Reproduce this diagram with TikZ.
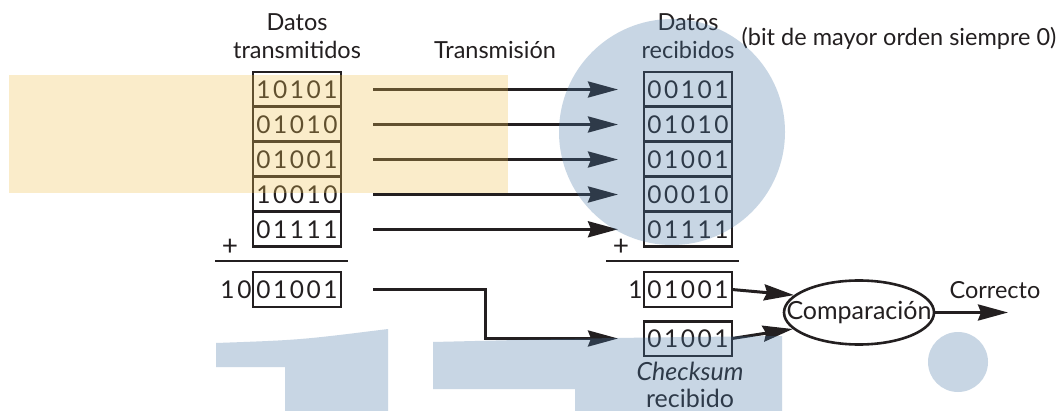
\documentclass[tikz,border=0pt]{standalone}
\usepackage{fontspec}
\setmainfont{Lato}
\usetikzlibrary{arrows.meta,shapes.geometric}
\definecolor{ink}{HTML}{231F20}
\definecolor{ovyellow}{rgb}{0.947,0.763,0.32}
\definecolor{ovblue}{rgb}{0.29,0.477,0.66}
\def\bits#1{\bitsA#1\relax}
\def\bitsA#1{\ifx#1\relax\else\makebox[16.8pt]{#1}\expandafter\bitsA\fi}
\tikzset{
  every node/.style={text=ink, font=\fontsize{23.5}{28}\selectfont},
  bitbox/.style={draw=ink, line width=2.8pt, minimum width=88pt, minimum height=34.8pt, inner sep=0pt, outer sep=0pt, font=\fontsize{24.5}{28}\selectfont},
  arr/.style={draw=ink, line width=3pt, -{Stealth[length=30pt,width=16pt,inset=3pt]}},
  overlay/.style={opacity=0.3},
  plus/.style={font=\fontsize{28}{28}\selectfont},
}
\begin{document}
\begin{tikzpicture}[x=1pt,y=-1pt]
\useasboundingbox (0,0) rectangle (1064,411);
\fill[white] (0,0) rectangle (1064,411);
% labels
\node[align=center] (lt) at (297,36) {Datos\\transmitidos};
\node (tx) at (495,50) {Transmisión};
\node[align=center] (lr) at (688,36) {Datos\\recibidos};
\node (note) at (899,38) {(bit de mayor orden siempre 0)};
% left boxes
\node[bitbox] (l1) at (297,89.5) {\bits{10101}};
\node[bitbox] (l2) at (297,124.5) {\bits{01010}};
\node[bitbox] (l3) at (297,159.5) {\bits{01001}};
\node[bitbox] (l4) at (297,194.5) {\bits{10010}};
\node[bitbox] (l5) at (297,229.3) {\bits{01111}};
\node[plus] (lp) at (230,247) {+};
\draw[ink, line width=2.8pt] (215,261) -- (348,261);
\node[bitbox] (ls) at (297,289.5) {\bits{01001}};
\node[anchor=east, inner sep=0pt, font=\fontsize{24.5}{28}\selectfont] (lc) at (ls.west) {\bits{10}};
% right boxes
\node[bitbox] (r1) at (688,89.5) {\bits{00101}};
\node[bitbox] (r2) at (688,124.5) {\bits{01010}};
\node[bitbox] (r3) at (688,159.5) {\bits{01001}};
\node[bitbox] (r4) at (688,194.5) {\bits{00010}};
\node[bitbox] (r5) at (688,229.3) {\bits{01111}};
\node[plus] (rp) at (621,247) {+};
\draw[ink, line width=2.8pt] (606,261) -- (739,261);
\node[bitbox] (rs) at (688,289.5) {\bits{01001}};
\node[anchor=east, inner sep=0pt, font=\fontsize{24.5}{28}\selectfont] (rc) at (rs.west) {\bits{1}};
\node[bitbox] (ck) at (688,338.5) {\bits{01001}};
\node[align=center, font=\fontsize{25}{27}\selectfont] (ckl) at (690,385) {\textit{Checksum}\\recibido};
% comparison
\node[draw=ink, line width=2.6pt, ellipse, minimum width=150pt, minimum height=64pt, inner sep=0pt, font=\fontsize{25}{28}\selectfont] (cmp) at (859,312.5) {\makebox[0pt]{Comparación}};
\coordinate (out) at (1008,312.5);
\node (ok) at (995,290) {Correcto};
% arrows
\foreach \i in {1,...,5}{
  \draw[arr, shorten <=32pt, shorten >=26pt] (l\i.east) -- (r\i.west);
}
\coordinate (elb) at (485,289.5);
\draw[arr, shorten <=32pt, shorten >=26pt] (ls.east) -- (elb) |- (ck.west);
\draw[arr] (rs.east) -- (cmp.165);
\draw[arr] (ck.east) -- (cmp.194);
\draw[arr] (cmp.east) -- (out);
% overlays
\fill[ovyellow, overlay] (9,75) rectangle (508,193);
\fill[ovblue, overlay] (672,132) circle (113);
\fill[ovblue, overlay] (216,343) .. controls (300,340) .. (388,329) -- (388,411) -- (285,411) -- (285,367) -- (216,367) -- cycle;
\fill[ovblue, overlay] (433,342) .. controls (600,338) .. (782,336) -- (782,411) -- (575,411) -- (575,389) -- (433,389) -- cycle;
\fill[ovblue, overlay] (958,362) circle (30);
\end{tikzpicture}
\end{document}
